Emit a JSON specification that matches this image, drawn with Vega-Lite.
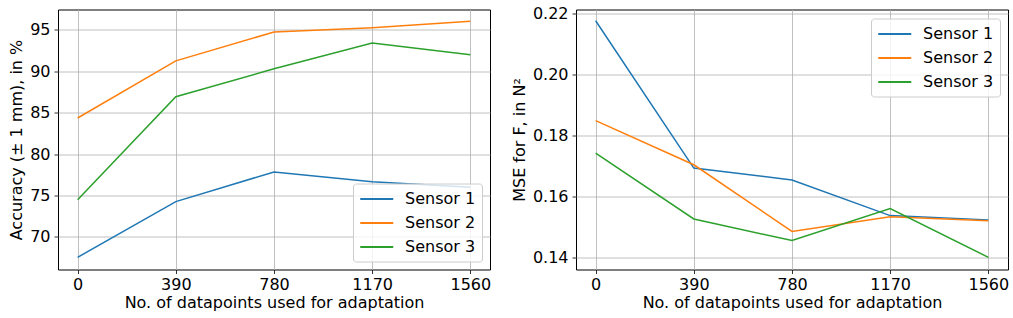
{
  "$schema": "https://vega.github.io/schema/vega-lite/v6.json",
  "padding": {"left": 8, "top": 4.5, "right": 0, "bottom": 0},
  "spacing": 18,
  "data": {"values": [
    {"n": 0, "sensor": "Sensor 1", "acc": 67.55, "mse": 0.2176},
    {"n": 390, "sensor": "Sensor 1", "acc": 74.27, "mse": 0.1692},
    {"n": 780, "sensor": "Sensor 1", "acc": 77.84, "mse": 0.1653},
    {"n": 1170, "sensor": "Sensor 1", "acc": 76.67, "mse": 0.1536},
    {"n": 1560, "sensor": "Sensor 1", "acc": 76.0, "mse": 0.1522},
    {"n": 0, "sensor": "Sensor 2", "acc": 84.35, "mse": 0.1848},
    {"n": 390, "sensor": "Sensor 2", "acc": 91.24, "mse": 0.1703},
    {"n": 780, "sensor": "Sensor 2", "acc": 94.72, "mse": 0.1484},
    {"n": 1170, "sensor": "Sensor 2", "acc": 95.24, "mse": 0.1532},
    {"n": 1560, "sensor": "Sensor 2", "acc": 96.0, "mse": 0.1519},
    {"n": 0, "sensor": "Sensor 3", "acc": 74.48, "mse": 0.1741},
    {"n": 390, "sensor": "Sensor 3", "acc": 86.92, "mse": 0.1525},
    {"n": 780, "sensor": "Sensor 3", "acc": 90.28, "mse": 0.1454},
    {"n": 1170, "sensor": "Sensor 3", "acc": 93.4, "mse": 0.1559},
    {"n": 1560, "sensor": "Sensor 3", "acc": 91.96, "mse": 0.1399}
  ]},
  "resolve": {"scale": {"color": "independent", "y": "independent"}, "legend": {"color": "independent"}},
  "hconcat": [
    {
      "width": 432,
      "height": 260,
      "mark": {"type": "line", "strokeWidth": 1.5},
      "encoding": {
        "x": {"field": "n", "type": "quantitative",
              "scale": {"domain": [-78, 1638], "nice": false, "zero": false},
              "axis": {"values": [0, 390, 780, 1170, 1560], "title": "No. of datapoints used for adaptation", "format": "d"}},
        "y": {"field": "acc", "type": "quantitative",
              "scale": {"domain": [66.08, 97.43], "nice": false, "zero": false},
              "axis": {"values": [70, 75, 80, 85, 90, 95], "title": "Accuracy (± 1 mm), in %", "format": "d"}},
        "color": {"field": "sensor", "type": "nominal",
                  "scale": {"domain": ["Sensor 1", "Sensor 2", "Sensor 3"], "range": ["#1f77b4", "#ff7f0e", "#2ca02c"]},
                  "legend": {"orient": "bottom-right", "title": null}}
      }
    },
    {
      "width": 432,
      "height": 260,
      "mark": {"type": "line", "strokeWidth": 1.5},
      "encoding": {
        "x": {"field": "n", "type": "quantitative",
              "scale": {"domain": [-78, 1638], "nice": false, "zero": false},
              "axis": {"values": [0, 390, 780, 1170, 1560], "title": "No. of datapoints used for adaptation", "format": "d"}},
        "y": {"field": "mse", "type": "quantitative",
              "scale": {"domain": [0.1359, 0.2213], "nice": false, "zero": false},
              "axis": {"values": [0.14, 0.16, 0.18, 0.20, 0.22], "title": "MSE for F, in N²", "format": ".2f"}},
        "color": {"field": "sensor", "type": "nominal",
                  "scale": {"domain": ["Sensor 1", "Sensor 2", "Sensor 3"], "range": ["#1f77b4", "#ff7f0e", "#2ca02c"]},
                  "legend": {"orient": "top-right", "title": null}}
      }
    }
  ],
  "config": {
    "font": "DejaVu Sans",
    "view": {"stroke": "#000000", "strokeWidth": 1},
    "axis": {
      "domain": false,
      "grid": true,
      "gridColor": "#b0b0b0",
      "gridWidth": 0.8,
      "tickColor": "#000000",
      "tickSize": 4,
      "tickWidth": 0.8,
      "labelPadding": 4,
      "labelFont": "DejaVu Sans",
      "labelFontSize": 16,
      "labelColor": "#000000",
      "titleFont": "DejaVu Sans",
      "titleFontSize": 16,
      "titleFontWeight": "normal",
      "titleColor": "#000000"
    },
    "axisX": {"titlePadding": 2, "labelFlush": false, "labelPadding": 2.5},
    "axisY": {"titlePadding": 5},
    "legend": {
      "symbolType": "M-1,0H3",
      "symbolSize": 272,
      "symbolStrokeWidth": 2,
      "labelFont": "DejaVu Sans",
      "labelFontSize": 16,
      "labelColor": "#000000",
      "labelOffset": 27,
      "padding": 6,
      "rowPadding": 6,
      "offset": 8.5,
      "fillColor": "rgba(255,255,255,0.8)",
      "strokeColor": "#cccccc",
      "cornerRadius": 3
    }
  }
}
